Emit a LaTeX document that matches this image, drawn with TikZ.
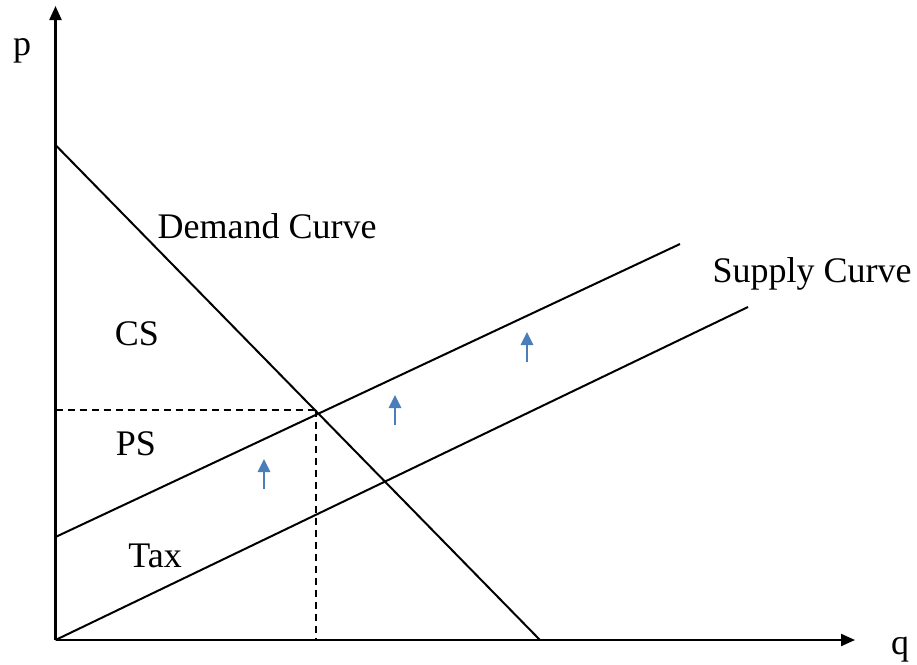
\documentclass[tikz,border=0pt]{standalone}
\usepackage{fontspec}
\setmainfont{Liberation Serif}
\usetikzlibrary{arrows.meta}
\definecolor{arrowblue}{HTML}{4A7EBB}
\begin{document}
\begin{tikzpicture}[x=1pt,y=-1pt,
  curve/.style={line width=2pt,black},
  axis/.style={line width=2.2pt,black,-{Triangle[length=14pt,width=12pt]}},
  guide/.style={line width=2pt,dash pattern=on 7pt off 5pt},
  shiftarrow/.style={line width=2.6pt,arrowblue,-{Triangle[length=13pt,width=12pt]}},
  lbl/.style={font=\fontsize{36}{40}\selectfont,anchor=base,inner sep=0pt}]
\useasboundingbox (0,0) rectangle (917,664);
% key points
\coordinate (O) at (55.5,640);
\coordinate (ytip) at (55.5,6);
\coordinate (xtip) at (855,640);
\coordinate (d1) at (55.5,145);
\coordinate (d2) at (540,640);
\coordinate (s1a) at (55.5,537);
\coordinate (s1b) at (680,244);
\coordinate (s2b) at (748,307);
\coordinate (eq) at (316,409.5);
\coordinate (eqy) at (55.5,409.5);
\coordinate (eqx) at (316,640);
\coordinate (a1s) at (264,489); \coordinate (a1e) at (264,459);
\coordinate (a2s) at (395,425); \coordinate (a2e) at (395,395);
\coordinate (a3s) at (527,362); \coordinate (a3e) at (527,332);
% axes
\draw[axis] (O) -- (ytip);
\draw[axis] (O) -- (xtip);
% curves
\draw[curve] (d1) -- (d2);
\draw[curve] (s1a) -- (s1b);
\draw[curve] (O) -- (s2b);
% dashed guides
\draw[guide] (eqy) -- (eq);
\draw[guide] (eq) -- (eqx);
% shift arrows
\draw[shiftarrow] (a1s) -- (a1e);
\draw[shiftarrow] (a2s) -- (a2e);
\draw[shiftarrow] (a3s) -- (a3e);
% labels
\node[lbl] (p) at (22,55) {p};
\node[lbl] (q) at (900,654) {q};
\node[lbl] (dem) at (267,238) {Demand Curve};
\node[lbl] (sup) at (812,282) {Supply Curve};
\node[lbl] (cs) at (137,345) {CS};
\node[lbl] (ps) at (136,455) {PS};
\node[lbl] (tax) at (155,567) {Tax};
\end{tikzpicture}
\end{document}
